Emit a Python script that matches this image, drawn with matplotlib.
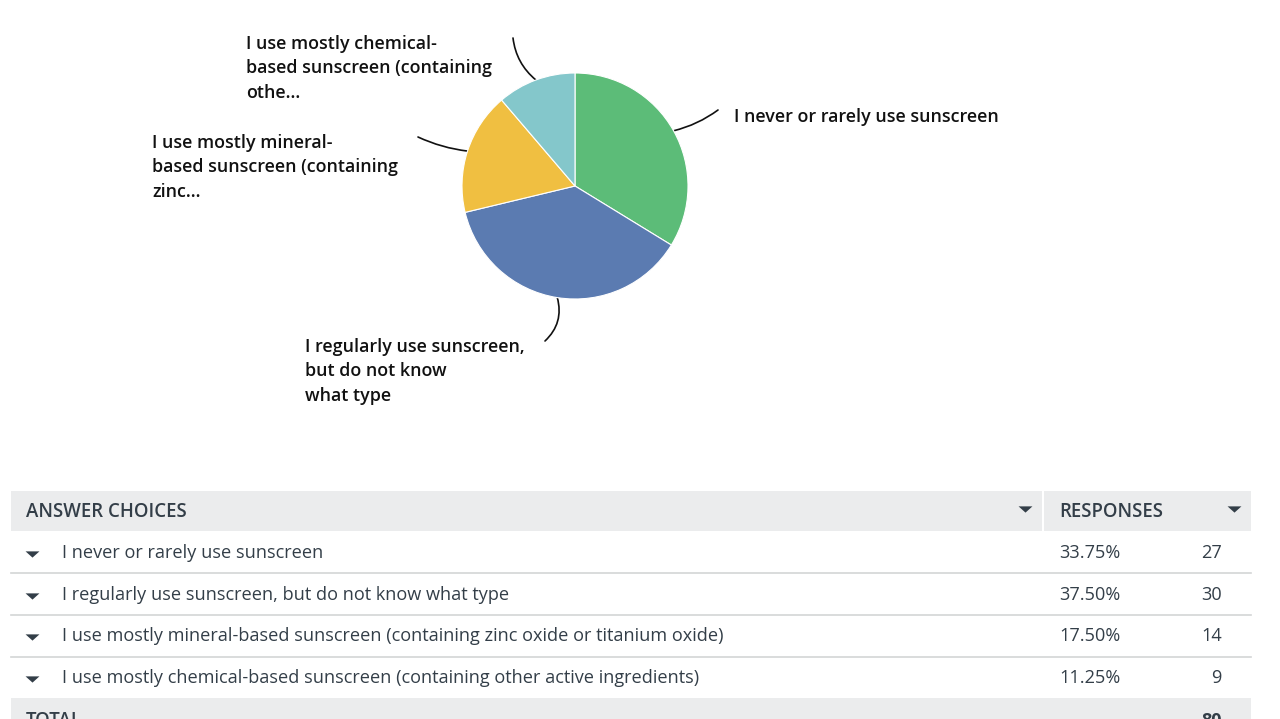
import numpy as np
import matplotlib
matplotlib.use("Agg")
import matplotlib.pyplot as plt
from matplotlib.patches import Rectangle
from matplotlib.path import Path

# Datos
escolhas = [
    "I never or rarely use sunscreen",
    "I regularly use sunscreen, but do not know what type",
    "I use mostly mineral-based sunscreen (containing zinc oxide or titanium oxide)",
    "I use mostly chemical-based sunscreen (containing other active ingredients)",
]
rotulos_pie = [
    "I never or rarely use sunscreen",
    "I regularly use sunscreen,\nbut do not know\nwhat type",
    "I use mostly mineral-\nbased sunscreen (containing\nzinc...",
    "I use mostly chemical-\nbased sunscreen (containing\nothe...",
]
percentagens = [33.75, 37.50, 17.50, 11.25]
respostas = [27, 30, 14, 9]
total = 80
cores = ["#5cbc78", "#5b7bb1", "#f0bf41", "#84c7cb"]

W, H = 1280, 719
fig = plt.figure(figsize=(W / 100, H / 100), dpi=100)
fig.patch.set_facecolor("white")

# overlay em pixeis
ov = fig.add_axes([0, 0, 1, 1])
ov.set_xlim(0, W)
ov.set_ylim(H, 0)
ov.axis("off")

# pie
cx, cy, r = 575, 186, 113
ax_pie = fig.add_axes([(cx - r) / W, 1 - (cy + r) / H, 2 * r / W, 2 * r / H])
ax_pie.pie(percentagens, colors=cores, startangle=90, counterclock=False,
           wedgeprops=dict(edgecolor="white", linewidth=0.8))
ax_pie.set_xlim(-1, 1)
ax_pie.set_ylim(-1, 1)
ax_pie.axis("off")

# linhas de ligacao e rotulos
fonte_rot = dict(family="Open Sans", fontsize=12.9, fontweight="semibold", color="#111111")
fim_linha = [(718, 110), (545, 341), (418, 137), (513, 38)]
pos_txt = [(734, 108), (305, 338), (152, 134), (246, 35)]
curvas = [-0.1, 0.3, 0.08, 0.2]

inicio = 90.0
for i, p in enumerate(percentagens):
    ang = np.deg2rad(inicio - p * 3.6 / 2)
    inicio -= p * 3.6
    px = cx + r * np.cos(ang)
    py = cy - r * np.sin(ang)
    ex, ey = fim_linha[i]
    ov.annotate("", xy=(px, py), xytext=(ex, ey),
                arrowprops=dict(arrowstyle="-", color="#111111", lw=1.2,
                                shrinkA=0, shrinkB=0,
                                connectionstyle=f"arc3,rad={curvas[i]}"))
    tx, ty = pos_txt[i]
    ov.text(tx, ty, rotulos_pie[i], ha="left", va="top", linespacing=1.45, **fonte_rot)

# marcador triangulo achatado
tri = Path([(-1, 0.45), (1, 0.45), (0, -0.45), (-1, 0.45)],
           [Path.MOVETO, Path.LINETO, Path.LINETO, Path.CLOSEPOLY])

# tabela
x0, x1, xdiv = 11, 1251, 1043
cor_txt = "#333e48"
cor_cab = "#ebeced"
ov.add_patch(Rectangle((x0, 491), x1 - x0, 40, facecolor=cor_cab, edgecolor="none"))
ov.plot([xdiv, xdiv], [491, 531], color="white", lw=1.5)
ov.text(26, 512, "ANSWER CHOICES", fontsize=13.4, family="Open Sans", fontweight="semibold",
        color=cor_txt, va="center")
ov.text(1059, 512, "RESPONSES", fontsize=13.4, family="Open Sans", fontweight="semibold",
        color=cor_txt, va="center")
for tx in (1025, 1234):
    ov.plot(tx, 509, marker=tri, markersize=10, color=cor_txt, markeredgewidth=0)

linhas_y = [553, 595, 636, 678]
for i, y in enumerate(linhas_y):
    ov.plot(32, y + 1, marker=tri, markersize=10, color=cor_txt, markeredgewidth=0)
    ov.text(62, y, escolhas[i], fontsize=13.1, family="Open Sans",
            color=cor_txt, va="center")
    ov.text(1059, y, f"{percentagens[i]:.2f}%", fontsize=13.1, family="Open Sans",
            color=cor_txt, va="center")
    ov.text(1222, y, str(respostas[i]), fontsize=13.1, family="Open Sans",
            color=cor_txt, va="center", ha="right")
for y in (573, 615, 657):
    ov.plot([x0, x1], [y, y], color="#d3d5d6", lw=1.2)

ov.add_patch(Rectangle((x0, 698), x1 - x0, 30, facecolor=cor_cab, edgecolor="none"))
ov.text(26, 721, "TOTAL", fontsize=13.4, family="Open Sans", fontweight="semibold",
        color=cor_txt, va="center")
ov.text(1222, 721, str(total), fontsize=13.1, family="Open Sans", fontweight="bold",
        color=cor_txt, va="center", ha="right")

fig.savefig("out.png", dpi=100, facecolor="white")
